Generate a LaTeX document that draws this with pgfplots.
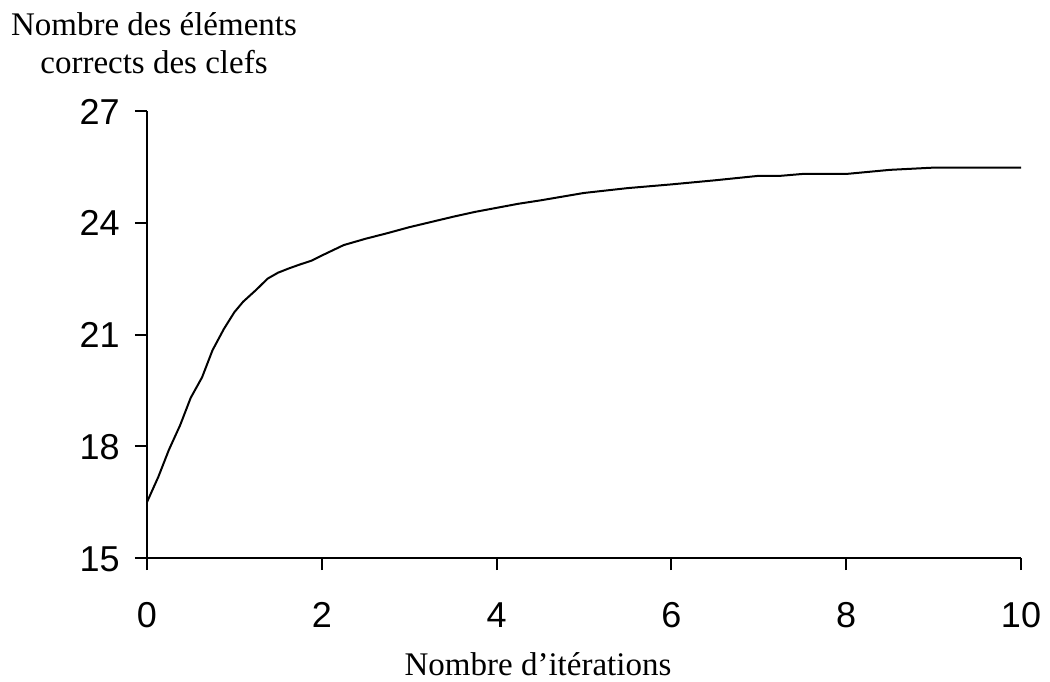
\documentclass[border=0pt]{standalone}
\usepackage{fontspec}
\setmainfont{Liberation Serif}
\setsansfont{Liberation Sans}
\usepackage{pgfplots}
\pgfplotsset{compat=1.18}
\begin{document}
\begin{tikzpicture}
\useasboundingbox (-73.5pt,-61.5pt) rectangle (451.5pt,279pt);
\begin{axis}[
  at={(0,0)}, anchor=south west,
  scale only axis, width=437pt, height=223.5pt,
  xmin=0, xmax=10, ymin=15, ymax=27,
  axis x line=bottom, axis y line=left,
  axis line style={-, line width=1pt, black},
  xtick={0,2,4,6,8,10}, ytick={15,18,21,24,27},
  tick align=outside, major tick length=6pt,
  tick style={line width=1pt, black},
  /pgf/number format/assume math mode=true,
  ticklabel style={font=\fontsize{18}{21}\selectfont\sffamily, inner sep=0pt},
  xticklabel style={anchor=base, yshift=-28.5pt},
  yticklabel style={anchor=base east, xshift=-7.5pt, yshift=-6.5pt},
  clip=false,
]
\addplot[black, line width=1pt, line join=round] coordinates {
(0,16.5) (0.13,17.18) (0.25,17.9) (0.38,18.57) (0.5,19.3) (0.63,19.85)
(0.75,20.58) (0.88,21.15) (1.0,21.6) (1.1,21.88) (1.25,22.2) (1.38,22.5)
(1.5,22.66) (1.63,22.78) (1.75,22.88) (1.88,22.98) (2.0,23.12) (2.25,23.4)
(2.5,23.57) (2.75,23.72) (3.0,23.88) (3.25,24.02) (3.5,24.16) (3.75,24.29)
(4.0,24.4) (4.25,24.51) (4.5,24.6) (4.75,24.7) (5.0,24.8) (5.5,24.93)
(6.0,25.03) (6.5,25.14) (7.0,25.26) (7.25,25.26) (7.5,25.31) (8.0,25.31)
(8.5,25.42) (9.0,25.48) (10,25.48)
};
\end{axis}
\node[anchor=base, font=\fontsize{16.5}{19}\selectfont, inner sep=0pt] at (195.5pt,-58.5pt) {Nombre d’itérations};
\node[anchor=base, font=\fontsize{16.5}{19}\selectfont, inner sep=0pt] at (3.5pt,261pt) {Nombre des éléments};
\node[anchor=base, font=\fontsize{16.5}{19}\selectfont, inner sep=0pt] at (3.5pt,242pt) {corrects des clefs};
\end{tikzpicture}
\end{document}
